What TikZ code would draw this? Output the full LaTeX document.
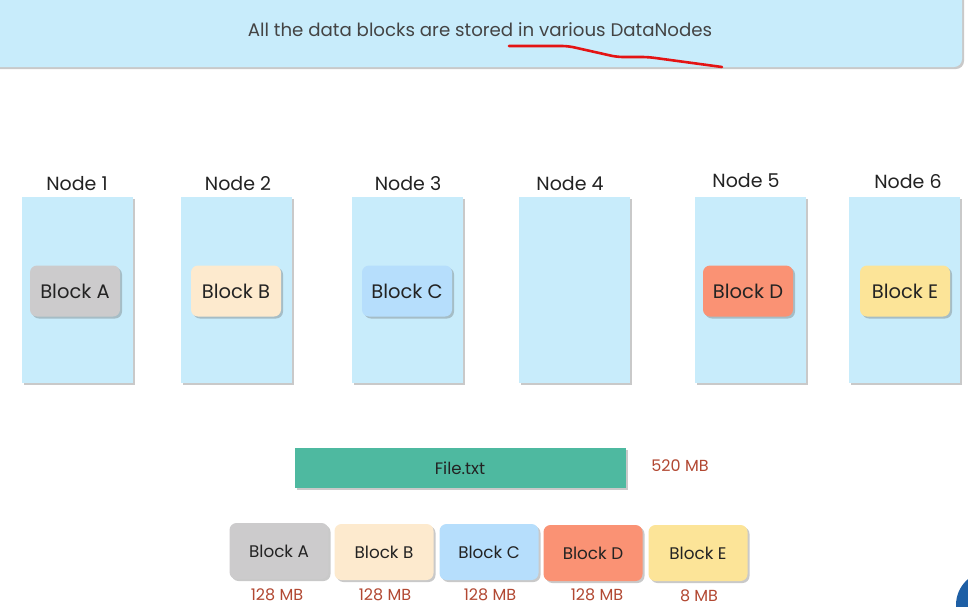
\documentclass[tikz,border=0pt]{standalone}
\usepackage{fontspec}
\setmainfont{Poppins}
\usepackage{tikz}
\usetikzlibrary{shadows}
\definecolor{PaleBlue}{RGB}{200,236,251}
\definecolor{GrayBlk}{RGB}{204,203,204}
\definecolor{CreamBlk}{RGB}{253,234,206}
\definecolor{SkyBlk}{RGB}{182,222,252}
\definecolor{SalmonBlk}{RGB}{250,146,116}
\definecolor{SandBlk}{RGB}{252,228,152}
\definecolor{Teal}{RGB}{78,185,160}
\definecolor{SizeRed}{RGB}{178,72,50}
\definecolor{InkGray}{RGB}{35,35,35}
\definecolor{PenRed}{RGB}{228,20,20}
\definecolor{LogoBlue}{RGB}{30,95,165}
\tikzset{
  shade/.style={drop shadow={shadow xshift=2pt,shadow yshift=-2pt,opacity=0.35,fill=black!60}},
  banner/.style={fill=PaleBlue,rounded corners=8pt,shade},
  datanode/.style={fill=PaleBlue,minimum width=111pt,minimum height=186pt,inner sep=0pt,shade},
  nodelabel/.style={text=InkGray,font=\fontsize{19}{21}\selectfont},
  blk/.style={rounded corners=7pt,minimum width=90pt,minimum height=51pt,inner sep=0pt,text=InkGray,font=\fontsize{19.5}{21}\selectfont,shade},
  split/.style={rounded corners=7pt,minimum width=99pt,minimum height=56pt,inner sep=0pt,text=InkGray,font=\fontsize{16.8}{18}\selectfont,shade},
  size/.style={text=SizeRed,font=\fontsize{16}{18}\selectfont}
}
\begin{document}
\begin{tikzpicture}[x=1pt,y=-1pt]
\useasboundingbox (0,0) rectangle (968,606);
\fill[white] (0,0) rectangle (968,606);

% banner
\fill[banner] (-10,-20) rectangle (962,67);
\node[text=InkGray!85,font=\fontsize{18.2}{20}\selectfont] (title) at (480,30) {All the data blocks are stored in various DataNodes};
\draw[PenRed,line width=2.6pt,line cap=round,rounded corners=6pt] (509,46) -- (568,46) -- (617,57) -- (648,57) -- (722,67);

% datanodes
\node[datanode] (n1) at (77,290) {};
\node[datanode] (n2) at (236,290) {};
\node[datanode] (n3) at (407,290) {};
\node[datanode] (n4) at (574,290) {};
\node[datanode] (n5) at (750,290) {};
\node[datanode] (n6) at (904,290) {};
\node[nodelabel] (l1) at (77,184) {Node 1};
\node[nodelabel] (l2) at (238,184) {Node 2};
\node[nodelabel] (l3) at (408,184) {Node 3};
\node[nodelabel] (l4) at (570,184) {Node 4};
\node[nodelabel] (l5) at (746,181) {Node 5};
\node[nodelabel] (l6) at (908,182) {Node 6};

\node[blk,fill=GrayBlk] (a) at (75,291) {Block A};
\node[blk,fill=CreamBlk] (b) at (236,291) {Block B};
\node[blk,fill=SkyBlk] (c) at (407,291) {Block C};
\node[blk,fill=SalmonBlk] (d) at (748,291) {Block D};
\node[blk,fill=SandBlk] (e) at (905,291) {Block E};

% file and its blocks
\node[fill=Teal,minimum width=331pt,minimum height=40pt,inner sep=0pt,text=InkGray,font=\fontsize{16.6}{18}\selectfont,shade] (file) at (460,468) {File.txt};
\node[size] (fsize) at (680,466) {520 MB};

\node[split,fill=GrayBlk] (sa) at (279,551) {Block A};
\node[split,fill=CreamBlk] (sb) at (384,552) {Block B};
\node[split,fill=SkyBlk] (sc) at (489,552) {Block C};
\node[split,fill=SalmonBlk] (sd) at (593,553) {Block D};
\node[split,fill=SandBlk] (se) at (698,553) {Block E};
\node[size] (za) at (277,595) {128 MB};
\node[size] (zb) at (385,595) {128 MB};
\node[size] (zc) at (490,595) {128 MB};
\node[size] (zd) at (597,595) {128 MB};
\node[size] (ze) at (699,596) {8 MB};

% logo corner
\fill[LogoBlue] (990,605) circle (34);
\end{tikzpicture}
\end{document}
